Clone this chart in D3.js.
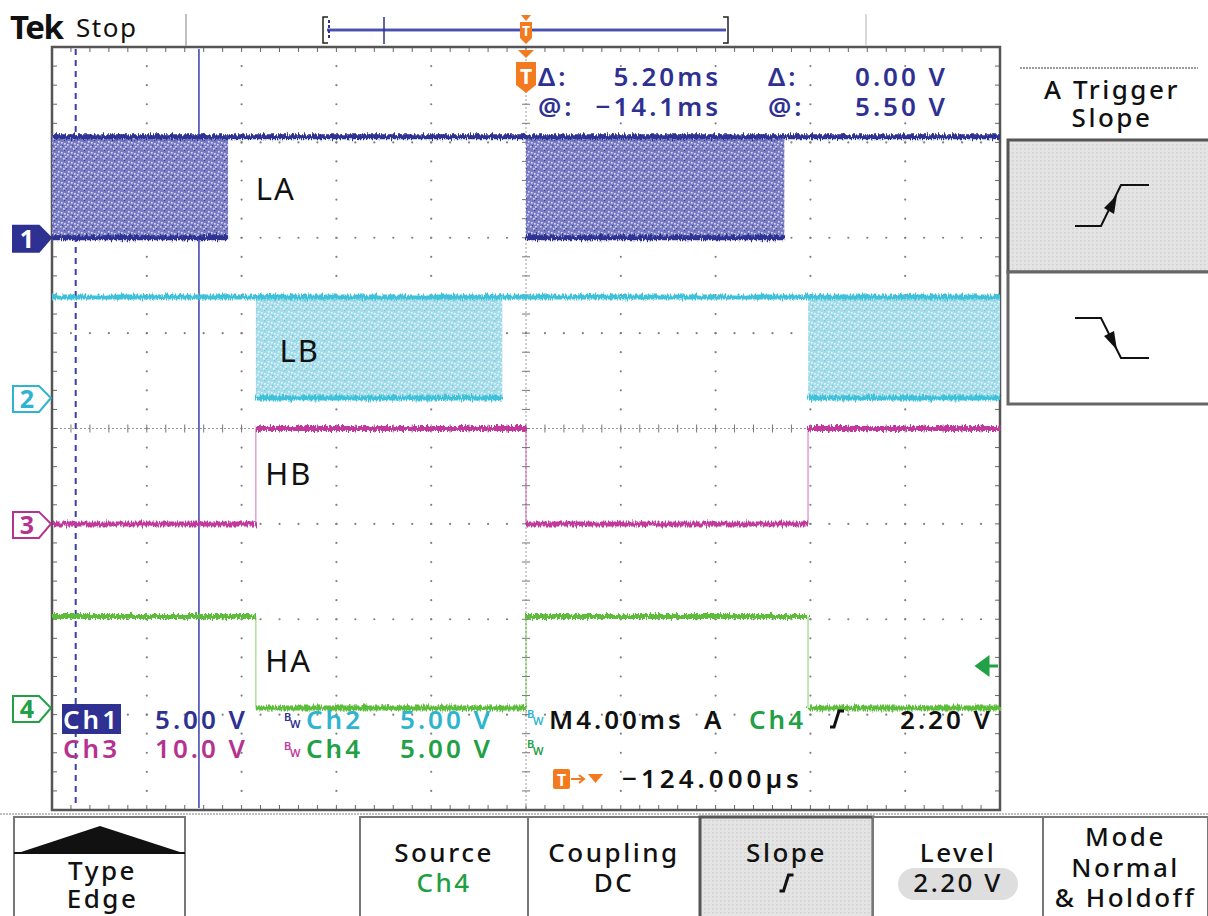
<!DOCTYPE html>
<html>
<head>
<meta charset="utf-8">
<script src="https://cdn.jsdelivr.net/npm/d3@7"></script>
<style>
  body { margin: 0; background: #fff; }
  svg { display: block; }
  text { font-family: 'Noto Sans', 'DejaVu Sans', sans-serif; }
</style>
</head>
<body>
<div id="chart"></div>
<script>
// ---- data ----
const channels = ['Ch1', 'Ch2', 'Ch3', 'Ch4']
const channelColors = ['#2e3192', '#3ec2da', '#c2399c', '#5bbd3a']   // traces
const channelTextColors = ['#2e3192', '#2fb4d0', '#b5338f', '#22a046'] // readouts
const voltsPerDiv = [5, 5, 10, 5]
const groundDiv = [2, 0.32, -1, -2.93]      // ground marker position, divisions from centre
const highVolts = [5.3, 5.3, 10, 4.8]

// [start ms, end ms, state]
const ch1Segments = [[-20, -12.57, 'pwm'], [-12.57, 0, 'high'], [0, 10.9, 'pwm'], [10.9, 20, 'high']]
const ch2Segments = [[-20, -11.4, 'high'], [-11.4, -1.0, 'pwm'], [-1.0, 11.9, 'high'], [11.9, 20, 'pwm']]
const ch3Segments = [[-20, -11.4, 'low'], [-11.4, 0, 'high'], [0, 11.9, 'low'], [11.9, 20, 'high']]
const ch4Segments = [[-20, -11.4, 'high'], [-11.4, 0, 'low'], [0, 11.9, 'high'], [11.9, 20, 'low']]
const segments = [ch1Segments, ch2Segments, ch3Segments, ch4Segments]

const traceLabels = ['LA', 'LB', 'HB', 'HA']
const labelTimes = [-11.4, -10.4, -11.0, -11.0]
const labelDivs = [2.4, 0.7, -0.59, -2.55]

const cursorTimes = [-19.0, -13.8]
const triggerLevel = 2.2   // volts on Ch4

const readoutRows = [['Δ:', '5.20ms', 'Δ:', '0.00 V'], ['@:', '−14.1ms', '@:', '5.50 V']]
const scaleRows = [[['Ch1', '5.00 V'], ['Ch2', '5.00 V']], [['Ch3', '10.0 V'], ['Ch4', '5.00 V']]]
const menuTitles = ['Type', '', 'Source', 'Coupling', 'Slope', 'Level', 'Mode']
const menuValues = ['Edge', '', 'Ch4', 'DC', '', '2.20 V', 'Normal']

// ---- layout ----
const width = 1208, height = 916
const plot = { left: 52, right: 1000, top: 47, bottom: 810 }

const x = d3.scaleLinear().domain([-20, 20]).range([plot.left, plot.right])
const y = d3.scaleLinear().domain([-4, 4]).range([plot.bottom, plot.top])

const svg = d3.select('#chart')
  .append('svg')
  .attr('width', width)
  .attr('height', height)

const defs = svg.append('defs')

// jitter filter to give the traces their noisy look
const noise = defs.append('filter')
  .attr('id', 'noise')
  .attr('filterUnits', 'userSpaceOnUse')
  .attr('x', 0).attr('y', 0).attr('width', width).attr('height', height)
noise.append('feTurbulence')
  .attr('type', 'fractalNoise')
  .attr('baseFrequency', '0.8 0.1')
  .attr('numOctaves', 2)
  .attr('seed', 4)
  .attr('result', 't')
noise.append('feDisplacementMap')
  .attr('in', 'SourceGraphic')
  .attr('in2', 't')
  .attr('scale', 7)
  .attr('xChannelSelector', 'R')
  .attr('yChannelSelector', 'G')

// speckled fill used by the PWM bursts
const speckleLight = [[1, 2], [5, 6], [8, 1], [3, 8], [7, 4], [0, 6], [4, 3]]
const speckleDark = [[4, 0], [6, 8], [2, 5]]
const makeSpeckle = (id, base, light, dark) => {
  const p = defs.append('pattern')
    .attr('id', id)
    .attr('patternUnits', 'userSpaceOnUse')
    .attr('width', 10).attr('height', 10)
  p.append('rect').attr('width', 10).attr('height', 10).attr('fill', base)
  p.selectAll(null).data(speckleLight).enter().append('rect')
    .attr('x', d => d[0]).attr('y', d => d[1]).attr('width', 1.6).attr('height', 1.6).attr('fill', light)
  p.selectAll(null).data(speckleDark).enter().append('rect')
    .attr('x', d => d[0]).attr('y', d => d[1]).attr('width', 1.2).attr('height', 1.2).attr('fill', dark)
}
makeSpeckle('burst1', '#7a7dc3', '#d6d7f2', '#41449e')
makeSpeckle('burst2', '#a6dce9', '#e2f5f9', '#6cc8de')

// dotted fill for the selected menu boxes
const dotted = defs.append('pattern')
  .attr('id', 'selected')
  .attr('patternUnits', 'userSpaceOnUse')
  .attr('width', 4).attr('height', 4)
dotted.append('rect').attr('width', 4).attr('height', 4).attr('fill', '#e4e4e4')
dotted.append('rect').attr('width', 1.5).attr('height', 1.5).attr('fill', '#cfcfcf')

// screen readout text style
const readout = (sel, size = 26) => sel
  .attr('font-size', size)
  .attr('font-weight', 600)
  .attr('letter-spacing', 3)

// ---- graticule ----
const grid = svg.append('g')
const xMajor = d3.range(-20, 20.01, 4)
const yMajor = d3.range(-4, 4.01, 1)
const xMinor = d3.range(-20, 20.01, 0.8)
const yMinor = d3.range(-4, 4.01, 0.2)

// dots along the interior major lines
yMajor.filter(d => d !== 0 && Math.abs(d) !== 4).forEach(v => {
  grid.selectAll(null).data(xMinor.slice(1, -1)).enter().append('circle')
    .attr('cx', d => x(d)).attr('cy', y(v)).attr('r', 1.1).attr('fill', '#808080')
})
xMajor.filter(d => d !== 0 && Math.abs(d) !== 20).forEach(t => {
  grid.selectAll(null).data(yMinor.slice(1, -1)).enter().append('circle')
    .attr('cx', x(t)).attr('cy', d => y(d)).attr('r', 1.1).attr('fill', '#808080')
})

// centre cross with ticks
grid.append('line')
  .attr('x1', plot.left).attr('x2', plot.right).attr('y1', y(0)).attr('y2', y(0))
  .attr('stroke', '#9a9a9a').attr('stroke-width', 1).attr('stroke-dasharray', '2,2')
grid.append('line')
  .attr('x1', x(0)).attr('x2', x(0)).attr('y1', plot.top).attr('y2', plot.bottom)
  .attr('stroke', '#9a9a9a').attr('stroke-width', 1).attr('stroke-dasharray', '2,2')
grid.selectAll(null).data(xMinor).enter().append('line')
  .attr('x1', d => x(d)).attr('x2', d => x(d))
  .attr('y1', y(0) - 4).attr('y2', y(0) + 4)
  .attr('stroke', '#777').attr('stroke-width', 1)
grid.selectAll(null).data(yMinor).enter().append('line')
  .attr('x1', x(0) - 4).attr('x2', x(0) + 4)
  .attr('y1', d => y(d)).attr('y2', d => y(d))
  .attr('stroke', '#777').attr('stroke-width', 1)

// border ticks
grid.selectAll(null).data(xMinor).enter().append('line')
  .attr('x1', d => x(d)).attr('x2', d => x(d))
  .attr('y1', plot.top).attr('y2', plot.top + 5)
  .attr('stroke', '#666')
grid.selectAll(null).data(xMinor).enter().append('line')
  .attr('x1', d => x(d)).attr('x2', d => x(d))
  .attr('y1', plot.bottom - 5).attr('y2', plot.bottom)
  .attr('stroke', '#666')
grid.selectAll(null).data(yMinor).enter().append('line')
  .attr('x1', plot.left).attr('x2', plot.left + 5)
  .attr('y1', d => y(d)).attr('y2', d => y(d))
  .attr('stroke', '#666')
grid.selectAll(null).data(yMinor).enter().append('line')
  .attr('x1', plot.right - 5).attr('x2', plot.right)
  .attr('y1', d => y(d)).attr('y2', d => y(d))
  .attr('stroke', '#666')
grid.append('rect')
  .attr('x', plot.left).attr('y', plot.top)
  .attr('width', plot.right - plot.left).attr('height', plot.bottom - plot.top)
  .attr('fill', 'none').attr('stroke', '#555').attr('stroke-width', 2.5)

// ---- cursors ----
svg.append('line')
  .attr('x1', x(cursorTimes[0])).attr('x2', x(cursorTimes[0]))
  .attr('y1', plot.top + 2).attr('y2', plot.bottom - 2)
  .attr('stroke', '#3a3fa8').attr('stroke-width', 2).attr('stroke-dasharray', '6,5')
svg.append('line')
  .attr('x1', x(cursorTimes[1])).attr('x2', x(cursorTimes[1]))
  .attr('y1', plot.top + 2).attr('y2', plot.bottom - 2)
  .attr('stroke', '#3a3fa8').attr('stroke-width', 1.5)

// ---- traces ----
const levelDiv = (c, state) => state === 'low'
  ? groundDiv[c]
  : groundDiv[c] + highVolts[c] / voltsPerDiv[c]

segments.forEach((segs, c) => {
  const g = svg.append('g')
  const color = channelColors[c]
  const yHigh = y(levelDiv(c, 'high'))
  const yLow = y(levelDiv(c, 'low'))

  // bursts
  g.selectAll(null).data(segs.filter(s => s[2] === 'pwm')).enter().append('rect')
    .attr('x', d => x(d[0])).attr('width', d => x(d[1]) - x(d[0]))
    .attr('y', yHigh).attr('height', yLow - yHigh)
    .attr('fill', `url(#burst${c + 1})`)

  // vertical edges
  const edges = segs.slice(1).filter((s, i) => s[2] !== 'pwm' && segs[i][2] !== 'pwm')
  g.selectAll(null).data(edges).enter().append('line')
    .attr('x1', d => x(d[0])).attr('x2', d => x(d[0]))
    .attr('y1', yHigh).attr('y2', yLow)
    .attr('stroke', color).attr('stroke-width', 1.3).attr('opacity', 0.55)

  // level lines (noisy)
  const lines = []
  segs.forEach(s => {
    if (s[2] === 'pwm') {
      lines.push([s[0], s[1], 'high'], [s[0], s[1], 'low'])
    } else {
      lines.push(s)
    }
  })
  g.append('g')
    .attr('filter', 'url(#noise)')
    .selectAll('line').data(lines).enter().append('line')
    .attr('x1', d => x(d[0])).attr('x2', d => x(d[1]))
    .attr('y1', d => y(levelDiv(c, d[2]))).attr('y2', d => y(levelDiv(c, d[2])))
    .attr('stroke', color).attr('stroke-width', 5)
})

// trace labels
svg.selectAll('text.trace-label').data(traceLabels).enter().append('text')
  .attr('class', 'trace-label')
  .attr('x', (d, i) => x(labelTimes[i]))
  .attr('y', (d, i) => y(labelDivs[i]))
  .attr('font-family', 'Liberation Sans, Arial, sans-serif')
  .attr('font-size', 31)
  .attr('letter-spacing', 2)
  .attr('fill', '#111')
  .text(d => d)

// ---- channel ground markers ----
channels.forEach((ch, c) => {
  const yc = y(groundDiv[c])
  const filled = c === 0
  svg.append('path')
    .attr('d', `M13,${yc - 12} H39 L51,${yc} L39,${yc + 14} H13 Z`)
    .attr('fill', filled ? channelColors[c] : '#fff')
    .attr('stroke', channelTextColors[c]).attr('stroke-width', 2)
  svg.append('text')
    .attr('x', 27).attr('y', yc + 10)
    .attr('text-anchor', 'middle')
    .attr('font-size', 25).attr('font-weight', 'bold')
    .attr('fill', filled ? '#fff' : channelTextColors[c])
    .text(c + 1)
})

// trigger level arrow on Ch4
const trigY = y(groundDiv[3] + triggerLevel / voltsPerDiv[3])
svg.append('path')
  .attr('d', `M977,${trigY} L988,${trigY - 8} L988,${trigY + 8} Z M986,${trigY} H998`)
  .attr('fill', channelTextColors[3]).attr('stroke', channelTextColors[3]).attr('stroke-width', 3)

// ---- header ----
svg.append('text')
  .attr('x', 10).attr('y', 39)
  .attr('font-family', 'Liberation Serif, serif').attr('font-weight', 'bold')
  .attr('font-size', 33).attr('letter-spacing', -1.5)
  .attr('fill', '#111').text('Tek')
svg.append('text')
  .attr('x', 76).attr('y', 37)
  .attr('font-size', 26).attr('letter-spacing', 1.5)
  .attr('fill', '#111').text('Stop')
svg.append('line').attr('x1', 186).attr('x2', 186).attr('y1', 14).attr('y2', 46)
  .attr('stroke', '#aaa').attr('stroke-width', 1.5)
svg.append('line').attr('x1', 866).attr('x2', 866).attr('y1', 14).attr('y2', 46)
  .attr('stroke', '#ccc').attr('stroke-width', 1.5)

// record view bar
const recLeft = 323, recRight = 728
svg.append('path')
  .attr('d', `M${recLeft + 5},17 H${recLeft} V43 H${recLeft + 5}`)
  .attr('fill', 'none').attr('stroke', '#222').attr('stroke-width', 1.5)
svg.append('path')
  .attr('d', `M${recRight - 5},17 H${recRight} V43 H${recRight - 5}`)
  .attr('fill', 'none').attr('stroke', '#222').attr('stroke-width', 1.5)
svg.append('line').attr('x1', recLeft + 4).attr('x2', recRight - 2).attr('y1', 30).attr('y2', 30)
  .attr('stroke', '#aab0e6').attr('stroke-width', 4)
svg.append('line').attr('x1', recLeft + 4).attr('x2', recRight - 2).attr('y1', 30).attr('y2', 30)
  .attr('stroke', '#2e3192').attr('stroke-width', 1.5)
svg.append('line').attr('x1', recLeft + 6).attr('x2', recLeft + 6).attr('y1', 20).attr('y2', 40)
  .attr('stroke', '#2e3192').attr('stroke-width', 2).attr('stroke-dasharray', '3,2')
svg.append('line').attr('x1', 384).attr('x2', 384).attr('y1', 17).attr('y2', 44)
  .attr('stroke', '#2e3192').attr('stroke-width', 1.5)

// trigger position markers
const orange = '#f37a1f'
const tx = x(0)
svg.append('path')
  .attr('d', `M${tx - 5},15 H${tx + 5} L${tx},21 Z M${tx - 6},22 H${tx + 6} V38 L${tx},44 L${tx - 6},38 Z`)
  .attr('fill', orange)
svg.append('text').attr('x', tx).attr('y', 36).attr('text-anchor', 'middle')
  .attr('font-size', 14).attr('font-weight', 'bold').attr('fill', '#fff').text('T')
svg.append('path')
  .attr('d', `M${tx - 8},50 H${tx + 8} L${tx},58 Z M${tx - 10},62 H${tx + 10} V85 L${tx},93 L${tx - 10},85 Z`)
  .attr('fill', orange)
svg.append('text').attr('x', tx).attr('y', 84).attr('text-anchor', 'middle')
  .attr('font-size', 21).attr('font-weight', 'bold').attr('fill', '#fff').text('T')

// cursor readouts
const readoutX = [538, 721, 768, 948]
const readoutAnchor = ['start', 'end', 'start', 'end']
readoutRows.forEach((row, r) => {
  row.forEach((txt, k) => {
    readout(svg.append('text'))
      .attr('x', readoutX[k]).attr('y', 86 + r * 30)
      .attr('text-anchor', readoutAnchor[k])
      .attr('fill', '#2e3192').text(txt)
  })
})

// ---- channel scale readouts ----
const bwIcon = (bx, by, color) => {
  svg.append('text').attr('x', bx).attr('y', by - 6)
    .attr('font-size', 11).attr('font-weight', 600).attr('fill', color).text('B')
  svg.append('text').attr('x', bx + 6).attr('y', by + 1)
    .attr('font-size', 11).attr('font-weight', 600).attr('fill', color).text('W')
}
svg.append('rect').attr('x', 62).attr('y', 704).attr('width', 59).attr('height', 30)
  .attr('fill', channelColors[0])
scaleRows.forEach((row, r) => {
  const by = 729 + r * 29
  row.forEach((pair, k) => {
    const c = r * 2 + k
    const color = channelTextColors[c]
    const cx = k === 0 ? 63 : 306
    const vx = k === 0 ? 248 : 493
    if (k === 1) bwIcon(284, by - 2, c === 1 ? '#2e3192' : '#c2399c')
    readout(svg.append('text')).attr('x', cx).attr('y', by)
      .attr('fill', c === 0 ? '#fff' : color).text(pair[0])
    readout(svg.append('text')).attr('x', vx).attr('y', by).attr('text-anchor', 'end')
      .attr('fill', color).text(pair[1])
  })
})

// timebase / trigger readout
bwIcon(527, 724, channelTextColors[1])
bwIcon(527, 754, channelTextColors[3])
readout(svg.append('text')).attr('x', 549).attr('y', 729)
  .attr('fill', '#111').text('M4.00ms')
readout(svg.append('text')).attr('x', 704).attr('y', 729)
  .attr('fill', '#111').text('A')
readout(svg.append('text')).attr('x', 749).attr('y', 729)
  .attr('fill', channelTextColors[3]).text('Ch4')
const slopeGlyph = (gx, gy, s) =>
  `M${gx - 7 * s},${gy + 8 * s} H${gx - 3 * s} L${gx + 2 * s},${gy - 8 * s} H${gx + 7 * s}`
svg.append('path').attr('d', slopeGlyph(837, 719, 1))
  .attr('fill', 'none').attr('stroke', '#111').attr('stroke-width', 3)
readout(svg.append('text')).attr('x', 993).attr('y', 729).attr('text-anchor', 'end')
  .attr('fill', '#111').text('2.20 V')

svg.append('rect').attr('x', 553).attr('y', 769).attr('width', 17).attr('height', 20).attr('rx', 2)
  .attr('fill', orange)
svg.append('text').attr('x', 561.5).attr('y', 786).attr('text-anchor', 'middle')
  .attr('font-size', 16).attr('font-weight', 'bold').attr('fill', '#fff').text('T')
svg.append('path').attr('d', 'M571,779 H583 M579,775 L584,779 L579,783')
  .attr('fill', 'none').attr('stroke', orange).attr('stroke-width', 2)
svg.append('path').attr('d', 'M588,774 H603 L595.5,783 Z').attr('fill', orange)
readout(svg.append('text')).attr('x', 622).attr('y', 788)
  .attr('letter-spacing', 4)
  .attr('fill', '#111').text('−124.000µs')

// ---- side menu ----
svg.append('line').attr('x1', 1020).attr('x2', 1198).attr('y1', 68).attr('y2', 68)
  .attr('stroke', '#777').attr('stroke-width', 1.5).attr('stroke-dasharray', '2,1')
svg.append('text').attr('x', 1112).attr('y', 99).attr('text-anchor', 'middle')
  .attr('font-size', 26).attr('font-weight', 500).attr('letter-spacing', 2.5).attr('fill', '#111').text('A Trigger')
svg.append('text').attr('x', 1112).attr('y', 127).attr('text-anchor', 'middle')
  .attr('font-size', 26).attr('font-weight', 500).attr('letter-spacing', 2.5).attr('fill', '#111').text('Slope')
svg.append('rect').attr('x', 1008).attr('y', 140).attr('width', 204).attr('height', 132)
  .attr('fill', 'url(#selected)').attr('stroke', '#555').attr('stroke-width', 3)
svg.append('rect').attr('x', 1008).attr('y', 272).attr('width', 204).attr('height', 132)
  .attr('fill', '#fff').attr('stroke', '#666').attr('stroke-width', 3)
svg.append('path').attr('d', 'M1075,226 H1101 L1121,185 H1149')
  .attr('fill', 'none').attr('stroke', '#111').attr('stroke-width', 2)
svg.append('path').attr('d', 'M1104,208 L1117,195 L1114,214 Z').attr('fill', '#111')
svg.append('path').attr('d', 'M1075,318 H1101 L1121,358 H1149')
  .attr('fill', 'none').attr('stroke', '#111').attr('stroke-width', 2)
svg.append('path').attr('d', 'M1104,336 L1117,350 L1114,331 Z').attr('fill', '#111')

// ---- bottom menu ----
svg.append('line').attr('x1', 0).attr('x2', width).attr('y1', 814).attr('y2', 814)
  .attr('stroke', '#aaa').attr('stroke-width', 1.5).attr('stroke-dasharray', '2,1')
const menuEdges = [14, 185, 360, 528, 700, 873, 1043, 1208]
menuTitles.forEach((title, i) => {
  if (i === 1) return
  const x0 = menuEdges[i], x1 = menuEdges[i + 1]
  svg.append('rect').attr('x', x0).attr('y', 817).attr('width', x1 - x0).attr('height', 104)
    .attr('fill', i === 4 ? 'url(#selected)' : '#fff')
    .attr('stroke', i === 4 ? '#555' : '#777').attr('stroke-width', i === 4 ? 3 : 2)
})
svg.append('path').attr('d', 'M18,853 L100,826 L183,853 Z').attr('fill', '#111')
svg.append('line').attr('x1', 14).attr('x2', 185).attr('y1', 853).attr('y2', 853)
  .attr('stroke', '#111').attr('stroke-width', 2)
const menuText = sel => sel
  .attr('text-anchor', 'middle')
  .attr('font-size', 26).attr('font-weight', 500).attr('letter-spacing', 2.5)
menuTitles.forEach((title, i) => {
  if (i === 1) return
  const cx = (menuEdges[i] + menuEdges[i + 1]) / 2 + (i === 0 ? 3 : 0)
  const rows = i === 0 ? [880, 908] : i === 6 ? [846, 877, 907] : [862, 892]
  menuText(svg.append('text')).attr('x', cx).attr('y', rows[0])
    .attr('fill', '#111').text(title)
  if (i === 5) {
    svg.append('rect').attr('x', cx - 60).attr('y', 868).attr('width', 120).attr('height', 32)
      .attr('rx', 16).attr('fill', '#dedede')
  }
  if (i === 4) {
    svg.append('path').attr('d', slopeGlyph(cx, 883, 1))
      .attr('fill', 'none').attr('stroke', '#111').attr('stroke-width', 3)
  } else if (menuValues[i]) {
    menuText(svg.append('text')).attr('x', cx).attr('y', rows[1])
      .attr('fill', i === 2 ? '#1fa043' : '#111').text(menuValues[i])
  }
  if (i === 6) {
    menuText(svg.append('text')).attr('x', cx).attr('y', rows[2])
      .attr('fill', '#111').text('& Holdoff')
  }
})
</script>
</body>
</html>
